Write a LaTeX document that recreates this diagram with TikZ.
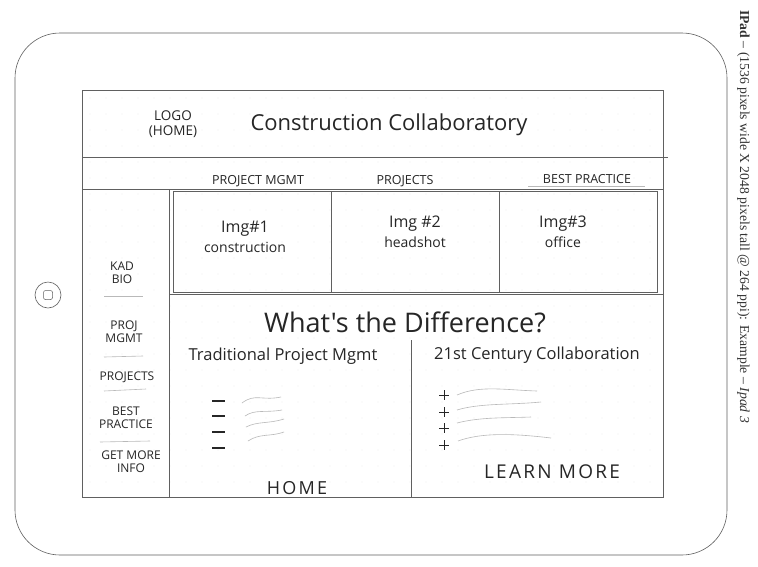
\documentclass[tikz,border=0pt]{standalone}
\usepackage{fontspec}
\setmainfont{Liberation Serif}
\newfontfamily\hand{Open Sans}
\newfontfamily\handwide[LetterSpace=12]{Open Sans}
\begin{document}
\begin{tikzpicture}[x=1pt,y=-1pt,
  pencil/.style={draw=gray!75!black,line width=0.6pt},
  soft/.style={draw=gray!55,line width=0.6pt},
  lbl/.style={font=\hand,text=gray!30!black,inner sep=0pt,align=center},
  navlbl/.style={lbl,font=\hand\fontsize{12.5}{12}\selectfont},
  sidelbl/.style={lbl,font=\hand\fontsize{12}{13}\selectfont},
  wave/.style={draw=gray!55,line width=0.6pt}]
\useasboundingbox (0,0) rectangle (758,566);
\fill[white] (0,0) rectangle (758,566);
% iPad body
\draw[pencil,rounded corners=45pt] (15,33) rectangle (727,555);
% home button
\node[draw=gray!75!black,circle,minimum size=26pt,inner sep=0pt,line width=0.6pt] (homebtn) at (48,295) {};
\node[draw=gray!75!black,rounded corners=2pt,minimum size=9pt,inner sep=0pt,line width=0.5pt] (homesq) at (homebtn.center) {};
% grid dots
\foreach \gx in {90,106,...,660} {\foreach \gy in {98,114,...,494} {\fill[gray!35] (\gx,\gy) circle (0.45pt);}}
% screen frame
\draw[pencil] (82,90) rectangle (663,497);
\draw[pencil] (82,157) -- (668,157);
\draw[pencil] (82,189) -- (663,189);
\draw[pencil] (169,189) -- (169,497);
% image boxes
\draw[pencil] (173,191) rectangle (657,292);
\draw[pencil] (331,191) -- (331,292);
\draw[pencil] (499,191) -- (499,292);
\draw[pencil] (169,294) -- (663,294);
% content divider
\draw[pencil] (411,340) -- (411,497);
% header
\node[lbl,font=\hand\fontsize{13.5}{15}\selectfont] (logo) at (173,124) {LOGO\\(HOME)};
\node[lbl,font=\hand\fontsize{22}{22}\selectfont] (title) at (389,125) {Construction Collaboratory};
% nav labels
\node[navlbl] (nav1) at (258,181) {PROJECT MGMT};
\node[navlbl] (nav2) at (405,181) {PROJECTS};
\node[navlbl] (nav3) at (587,179) {BEST PRACTICE};
\draw[soft] (528,186) -- (645,186);
% images
\node[lbl,font=\hand\fontsize{16}{20}\selectfont] (img1) at (245,237) {Img\#1\\{\fontsize{14}{14}\selectfont construction}};
\node[lbl,font=\hand\fontsize{16}{20}\selectfont] (img2) at (415,232) {Img \#2\\{\fontsize{14}{14}\selectfont headshot}};
\node[lbl,font=\hand\fontsize{16}{20}\selectfont] (img3) at (563,232) {Img\#3\\{\fontsize{14}{14}\selectfont office}};
% sidebar
\node[sidelbl] (s1) at (122,273) {KAD\\BIO};
\draw[soft] (104,296) -- (143,296);
\node[sidelbl] (s2) at (124,332) {PROJ\\MGMT};
\draw[soft] (104,357) -- (143,356);
\node[sidelbl] (s3) at (127,377) {PROJECTS};
\draw[soft] (104,391) -- (146,389);
\node[sidelbl] (s4) at (126,418) {BEST\\PRACTICE};
\draw[soft] (100,442) -- (150,441);
\node[sidelbl] (s5) at (131,462) {GET MORE\\INFO};
% content
\node[lbl,font=\hand\fontsize{27}{28}\selectfont] (diff) at (405,322) {What's the Difference?};
\node[lbl,font=\hand\fontsize{16.5}{18}\selectfont] (colA) at (283,356) {Traditional Project Mgmt};
\node[lbl,font=\hand\fontsize{16.5}{18}\selectfont] (colB) at (537,355) {21st Century Collaboration};
% minus bullets and waves
\foreach \yy in {401,416,432,448} {
  \draw[gray!30!black,line width=1.6pt] (212,\yy) -- (225,\yy);
}
\draw[wave] (242,403) .. controls (255,393) and (262,401) .. (281,397);
\draw[wave] (245,416) .. controls (255,409) and (265,413) .. (282,410);
\draw[wave] (246,427) .. controls (258,421) and (268,424) .. (284,419);
\draw[wave] (248,441) .. controls (260,433) and (270,437) .. (284,432);
\foreach \yy in {395,412,428,445} {
  \draw[gray!30!black,line width=0.7pt] (439,\yy) -- (449,\yy) (444,\yy-5) -- (444,\yy+5);
}
\draw[wave] (457,395) .. controls (480,385) and (505,390) .. (537,391);
\draw[wave] (457,410) .. controls (480,403) and (510,405) .. (541,402);
\draw[wave] (457,423) .. controls (480,417) and (505,418) .. (531,417);
\draw[wave] (458,441) .. controls (480,433) and (510,433) .. (551,438);
\node[lbl,font=\handwide\fontsize{18}{20}\selectfont] (home) at (297,488) {HOME};
\node[lbl,font=\handwide\fontsize{19}{20}\selectfont] (learn) at (552,472) {LEARN MORE};
% side annotation
\node[rotate=-90,anchor=south west,inner sep=0pt,font=\fontsize{13.7}{14}\selectfont,text=black!80] (note) at (737,10) {\textbf{IPad} -- (1536 pixels wide X 2048 pixels tall @ 264 ppi): Example -- \textit{Ipad 3}};
\end{tikzpicture}
\end{document}
